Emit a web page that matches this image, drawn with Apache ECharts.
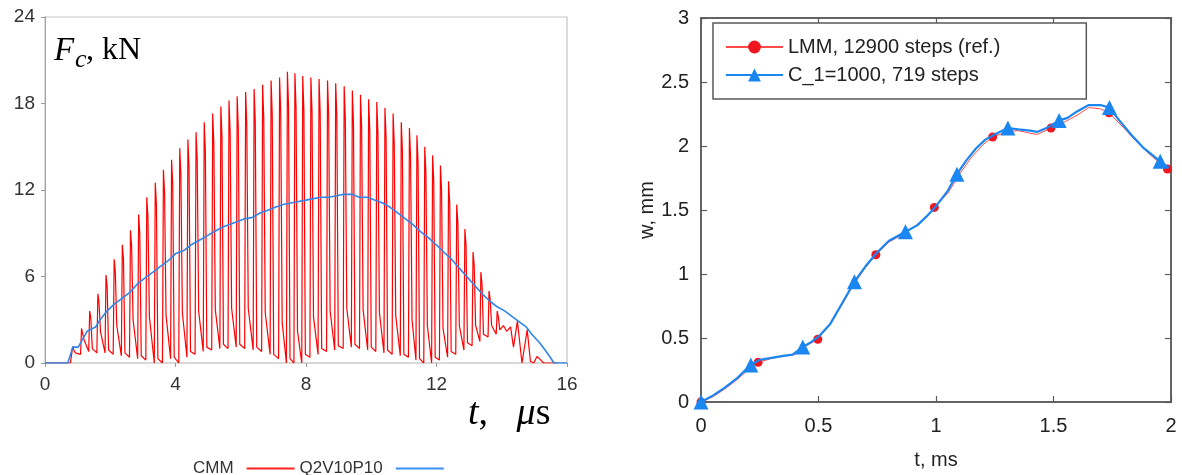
<!DOCTYPE html>
<html>
<head>
<meta charset="utf-8">
<script src="https://cdn.jsdelivr.net/npm/echarts@6/dist/echarts.min.js"></script>
<style>
html,body{margin:0;padding:0;background:#fff;}
#c{width:1182px;height:475px;}
</style>
</head>
<body>
<div id="c"></div>
<script>
// ---------- Left panel: contact force F_c (kN) vs t (µs) ----------
// CMM: oscillating force, read per oscillation (trough, spike, shoulder, low)
const cmmT = [0,0.78,
  0.82,0.85,0.885,0.93, 1.09,1.12,1.155,1.20, 1.34,1.37,1.405,1.45, 1.59,1.62,1.655,1.70,
  1.84,1.87,1.905,1.95, 2.09,2.12,2.155,2.20, 2.34,2.37,2.405,2.45, 2.59,2.62,2.655,2.70,
  2.84,2.87,2.905,2.95, 3.09,3.12,3.155,3.20, 3.35,3.38,3.415,3.46, 3.60,3.63,3.665,3.71,
  3.85,3.88,3.915,3.96, 4.10,4.13,4.165,4.21, 4.35,4.38,4.415,4.46, 4.60,4.63,4.665,4.71,
  4.85,4.88,4.915,4.96, 5.11,5.14,5.175,5.22, 5.36,5.39,5.425,5.47, 5.61,5.64,5.675,5.72,
  5.86,5.89,5.925,5.97, 6.12,6.15,6.185,6.23, 6.38,6.41,6.445,6.49, 6.64,6.67,6.705,6.75,
  6.90,6.93,6.965,7.01, 7.16,7.19,7.225,7.27, 7.40,7.43,7.465,7.51, 7.63,7.66,7.695,7.74,
  7.87,7.90,7.935,7.98, 8.12,8.15,8.185,8.23, 8.37,8.40,8.435,8.48, 8.63,8.66,8.695,8.74,
  8.88,8.91,8.945,8.99, 9.14,9.17,9.205,9.25, 9.39,9.42,9.455,9.50, 9.64,9.67,9.705,9.75,
  9.89,9.92,9.955,10.00, 10.14,10.17,10.205,10.25, 10.39,10.42,10.455,10.50, 10.64,10.67,10.705,10.75,
  10.89,10.92,10.955,11.00, 11.14,11.17,11.205,11.25, 11.37,11.40,11.435,11.48, 11.61,11.64,11.675,11.72,
  11.85,11.88,11.915,11.96, 12.09,12.12,12.155,12.20, 12.34,12.37,12.405,12.45, 12.59,12.62,12.655,12.70,
  12.84,12.87,12.905,12.95, 13.09,13.12,13.155,13.20, 13.33,13.36,13.395,13.44, 13.58,13.61,13.645,13.69,
  13.83,13.86,13.895,13.94,
  14.05,14.15,14.27,14.36,14.48,14.62,14.78,14.88,14.98,15.08,15.20,15.28,15.68];
const cmmF = [0,0,
  0.0,1.15,0.9,0.7, 0.6,2.4,2.0,1.6, 0.8,3.6,3.1,1.0, 0.7,4.8,4.2,2.2,
  0.7,6.1,5.3,0.9, 0.6,7.2,6.3,2.6, 0.5,8.2,7.2,0.7, 0.4,9.2,8.1,3.0,
  0.3,10.3,9.0,0.5, 0.2,11.5,10.1,3.2, 0.0,12.5,11.0,0.3, 0.0,13.4,11.8,3.3,
  0.3,14.1,12.4,0.4, 0.0,14.9,13.1,3.5, 0.4,15.5,13.6,0.8, 0.6,16.0,14.1,3.6,
  0.8,16.7,14.7,1.1, 0.9,17.3,15.2,3.7, 1.0,17.8,15.7,1.3, 1.0,18.2,16.0,3.8,
  1.1,18.5,16.3,1.3, 1.0,18.8,16.5,3.8, 0.9,19.0,16.7,1.1, 0.8,19.3,17.0,3.5,
  0.6,19.6,17.2,0.6, 0.3,19.8,17.4,2.8, 0.0,20.2,17.8,0.3, 0.0,20.1,17.7,2.2,
  0.0,19.9,17.5,0.6, 0.4,19.8,17.4,3.2, 0.6,19.7,17.3,1.0, 0.8,19.6,17.2,3.6,
  0.9,19.4,17.1,1.2, 1.0,19.2,16.9,3.8, 1.1,18.9,16.6,1.3, 1.0,18.6,16.4,3.7,
  0.9,18.3,16.1,1.1, 0.8,18.1,15.9,3.5, 0.7,17.7,15.6,0.9, 0.6,17.3,15.2,3.3,
  0.5,16.7,14.7,0.6, 0.4,16.3,14.3,3.0, 0.2,15.8,13.9,0.3, 0.0,15.0,13.2,2.6,
  0.0,14.4,12.7,0.4, 0.2,13.7,12.0,2.4, 0.4,12.6,11.1,0.8, 0.6,11.0,9.7,2.6,
  0.9,9.3,8.2,1.4, 1.2,7.7,6.8,2.6, 1.5,6.3,5.5,2.0, 1.8,5.0,4.4,2.6,
  2.0,3.6,3.2,2.3,
  2.6,2.2,2.5,1.1,2.9,0.0,2.3,0.1,0.0,0.45,0.2,0.0,0.0];

// Q2V10P10: smooth force curve
const q2vT = [0,0.70,0.85,1.02,1.14,1.29,1.55,1.69,1.90,2.13,2.37,2.60,2.84,3.07,3.31,3.54,3.78,4.01,4.25,4.48,
  4.72,4.95,5.18,5.42,5.65,5.89,6.12,6.36,6.59,6.83,7.06,7.30,7.53,7.77,8.00,8.23,8.47,8.70,8.94,9.17,
  9.41,9.64,9.88,10.10,10.35,10.58,10.82,11.05,11.28,11.52,11.75,11.99,12.22,12.46,12.69,12.93,13.16,13.40,13.63,13.86,
  14.10,14.33,14.57,14.75,14.92,15.16,15.33,15.50,15.60,16.00];
const q2vF = [0,0,1.1,1.1,1.6,2.2,2.5,3.0,3.6,4.1,4.5,4.9,5.5,5.9,6.3,6.7,7.1,7.6,7.8,8.2,
  8.5,8.8,9.1,9.4,9.6,9.8,10.0,10.1,10.4,10.6,10.8,11.0,11.1,11.2,11.3,11.4,11.5,11.5,11.6,11.7,
  11.7,11.5,11.5,11.3,11.1,10.8,10.4,10.0,9.6,9.1,8.7,8.2,7.7,7.2,6.6,6.0,5.4,4.8,4.3,3.9,
  3.6,3.2,2.8,2.5,2.0,1.4,0.9,0.35,0,0];

// ---------- Right panel: deflection w (mm) vs t (ms) ----------
const lmmT = [0,0.05,0.1,0.15,0.2,0.243,0.3,0.35,0.4,0.45,0.497,0.55,0.6,0.65,0.7,0.744,0.8,0.85,0.9,0.95,
  0.993,1.05,1.1,1.15,1.2,1.241,1.3,1.35,1.4,1.43,1.489,1.55,1.6,1.65,1.7,1.736,1.8,1.85,1.9,1.95,1.985];
const lmmW = [0,0.04,0.1,0.17,0.25,0.31,0.34,0.36,0.37,0.44,0.49,0.61,0.76,0.92,1.05,1.15,1.25,1.30,1.36,1.43,
  1.52,1.63,1.78,1.91,2.01,2.07,2.11,2.12,2.10,2.09,2.14,2.19,2.24,2.30,2.29,2.26,2.14,2.04,1.95,1.87,1.82];
const lmmMarkT = [0,0.243,0.497,0.744,0.993,1.241,1.489,1.736,1.985];

const c1T = [0,0.05,0.1,0.15,0.212,0.25,0.3,0.35,0.39,0.433,0.47,0.5,0.55,0.6,0.653,0.7,0.75,0.8,0.87,0.92,
  0.96,1.0,1.05,1.089,1.13,1.17,1.21,1.26,1.306,1.35,1.4,1.43,1.47,1.524,1.56,1.6,1.65,1.7,1.738,1.78,
  1.83,1.88,1.92,1.954,1.99];
const c1W = [0,0.05,0.11,0.18,0.29,0.33,0.345,0.36,0.37,0.43,0.47,0.51,0.61,0.77,0.94,1.06,1.17,1.26,1.33,1.38,
  1.45,1.53,1.65,1.78,1.89,1.98,2.05,2.10,2.14,2.13,2.12,2.11,2.14,2.20,2.22,2.27,2.32,2.32,2.30,2.20,
  2.09,1.99,1.93,1.88,1.83];
const c1MarkT = [0,0.212,0.433,0.653,0.87,1.089,1.306,1.524,1.738,1.954];

const leftXTicks = {min:0, max:16, interval:4};
const leftYTicks = {min:0, max:24, interval:6};
const rightXTicks = {min:0, max:2, interval:0.5};
const rightYTicks = {min:0, max:3, interval:0.5};

const SANS = '"Liberation Sans", Arial, sans-serif';
const SERIF = '"Liberation Serif", "DejaVu Serif", serif';

function pairs(t, v){ return t.map((x,i)=>[x, v[i]]); }
function marked(t, v, marks){
  return t.map((x,i)=> marks.indexOf(x) >= 0 ? {value:[x, v[i]]} : {value:[x, v[i]], symbol:'none'});
}

const chart = echarts.init(document.getElementById('c'), null, {renderer:'canvas'});

const frameR = '#5a5a5a';
function rightAxisCommon(extra){
  return Object.assign({
    gridIndex:1, type:'value',
    axisLine:{show:true, onZero:false, lineStyle:{color:frameR, width:1.5}},
    axisTick:{show:true, inside:true, length:6, lineStyle:{color:frameR, width:1.2}},
    splitLine:{show:false},
    axisLabel:{show:false}
  }, extra);
}

chart.setOption({
  animation:false,
  backgroundColor:'#ffffff',
  grid:[
    {left:45, top:17, width:522, height:346, show:true, borderColor:'#c4c4c4', borderWidth:1.2, backgroundColor:'transparent'},
    {left:701, top:18, width:470, height:388, show:true, borderColor:frameR, borderWidth:1.5, backgroundColor:'transparent'}
  ],
  xAxis:[
    Object.assign({gridIndex:0, type:'value',
      axisLine:{show:true, lineStyle:{color:'#d8d8d8', width:2}},
      axisTick:{show:true, length:4, lineStyle:{color:'#999'}},
      axisLabel:{fontSize:19, color:'#333', margin:12, fontFamily:SANS},
      splitLine:{show:false}}, leftXTicks),
    rightAxisCommon(Object.assign({position:'bottom',
      axisLabel:{show:true, fontSize:20, color:'#222', margin:14, fontFamily:SANS},
      name:'t, ms', nameLocation:'middle', nameGap:48,
      nameTextStyle:{fontSize:20, color:'#222', fontFamily:SANS}}, rightXTicks)),
    rightAxisCommon(Object.assign({position:'top'}, rightXTicks))
  ],
  yAxis:[
    Object.assign({gridIndex:0, type:'value',
      axisLine:{show:true, lineStyle:{color:'#a0a0a0', width:1}},
      axisTick:{show:true, length:4, lineStyle:{color:'#999'}},
      axisLabel:{fontSize:19, color:'#333', margin:10, fontFamily:SANS},
      splitLine:{show:false}}, leftYTicks),
    rightAxisCommon(Object.assign({position:'left',
      axisLabel:{show:true, fontSize:20, color:'#222', margin:12, fontFamily:SANS},
      name:'w, mm', nameLocation:'middle', nameGap:31, nameRotate:90,
      nameTextStyle:{fontSize:20, color:'#222', fontFamily:SANS}}, rightYTicks)),
    rightAxisCommon(Object.assign({position:'right'}, rightYTicks))
  ],
  legend:[
    {data:[{name:'CMM', icon:'rect'},{name:'Q2V10P10', icon:'rect'}], left:188, top:455, align:'right',
     itemWidth:48, itemHeight:2, itemGap:5,
     textStyle:{fontSize:17, color:'#333', fontFamily:SANS, padding:[0,8,0,0]}},
    {data:['LMM, 12900 steps (ref.)','C_1=1000, 719 steps'], orient:'vertical', left:713, top:23,
     itemWidth:57, itemHeight:16, itemGap:8, padding:[14,86,14,12],
     borderColor:frameR, borderWidth:1.5, backgroundColor:'#fff',
     textStyle:{fontSize:20, color:'#222', fontFamily:SANS}}
  ],
  graphic:[
    {type:'text', x:54, y:51, style:{text:'F', font:'italic 33px ' + SERIF, fill:'#000', verticalAlign:'middle'}},
    {type:'text', x:75, y:60, style:{text:'c', font:'italic 26px ' + SERIF, fill:'#000', verticalAlign:'middle'}},
    {type:'text', x:86, y:51, style:{text:', kN', font:'32px ' + SERIF, fill:'#000', verticalAlign:'middle'}},
    {type:'text', x:468, y:414, style:{text:'{i|t}{r|,   }{i|μ}{r|s}', verticalAlign:'middle',
      rich:{i:{fontFamily:SERIF, fontStyle:'italic', fontSize:38, fill:'#000', color:'#000'},
            r:{fontFamily:SERIF, fontSize:38, fill:'#000', color:'#000'}}}}
  ],
  series:[
    {name:'CMM', type:'line', xAxisIndex:0, yAxisIndex:0, data:pairs(cmmT, cmmF),
     symbol:'none', lineStyle:{color:'#ff0000', width:1.2}, itemStyle:{color:'#ff2020'}, z:2},
    {name:'Q2V10P10', type:'line', xAxisIndex:0, yAxisIndex:0, data:pairs(q2vT, q2vF),
     symbol:'none', lineStyle:{color:'#2f86e8', width:1.6}, itemStyle:{color:'#3a92f0'}, z:3},
    {name:'LMM, 12900 steps (ref.)', type:'line', xAxisIndex:1, yAxisIndex:1, data:marked(lmmT, lmmW, lmmMarkT),
     symbol:'circle', symbolSize:9, showSymbol:true, showAllSymbol:true,
     lineStyle:{color:'#ff4a4a', width:1}, itemStyle:{color:'#ee1620'}, z:2},
    {name:'C_1=1000, 719 steps', type:'line', xAxisIndex:1, yAxisIndex:1, data:marked(c1T, c1W, c1MarkT),
     symbol:'triangle', symbolSize:15, showSymbol:true, showAllSymbol:true,
     lineStyle:{color:'#1a86f2', width:2.2}, itemStyle:{color:'#1a86f2'}, z:3}
  ]
});
</script>
</body>
</html>
